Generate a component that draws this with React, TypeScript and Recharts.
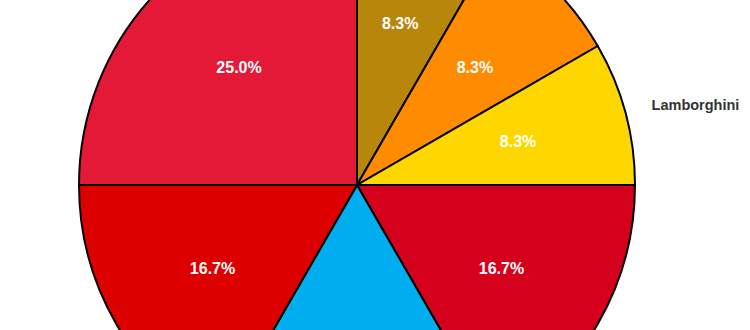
import { PieChart, Pie, Cell } from 'recharts';

const brands = ['Porsche', 'McLaren', 'Lamborghini', 'Alfa Romeo', 'Bugatti', 'Ferrari', 'Tesla'];
const counts = [1, 1, 1, 2, 2, 2, 3];
const colors = ['#B8860B', '#FF8C00', '#FFD700', '#D5001C', '#00ADEF', '#DC0000', '#E31937'];

const data = brands.map((name, i) => ({ name, value: counts[i] }));
const total = counts.reduce((a, b) => a + b, 0);

const RAD = Math.PI / 180;

function renderLabel(props: any) {
    const { cx, cy, midAngle, outerRadius, value, name } = props;
    const cos = Math.cos(-midAngle * RAD);
    const sin = Math.sin(-midAngle * RAD);
    const rIn = outerRadius * 0.6;
    const rOut = outerRadius + 27;
    return (
        <g>
            <text
                x={cx + rIn * cos}
                y={cy + rIn * sin}
                fill="#fff"
                fontSize={16}
                fontWeight="bold"
                textAnchor="middle"
                dominantBaseline="central"
            >
                {((value / total) * 100).toFixed(1)}%
            </text>
            <text
                x={cx + rOut * cos}
                y={cy + rOut * sin + 4}
                fill="#333"
                fontSize={14.5}
                fontWeight="bold"
                textAnchor={cos >= 0 ? 'start' : 'end'}
            >
                {name}
            </text>
        </g>
    );
}

export default function App() {
    return (
        <div style={{ position: 'fixed', left: 0, top: 0, width: 750, height: 330, background: '#fff', fontFamily: '"Liberation Sans", Arial, sans-serif' }}>
            <PieChart width={750} height={330} margin={{ top: 0, right: 0, bottom: 0, left: 0 }}>
                <Pie
                    data={data}
                    dataKey="value"
                    nameKey="name"
                    cx={357}
                    cy={185}
                    outerRadius={278}
                    startAngle={90}
                    endAngle={-270}
                    stroke="#000"
                    strokeWidth={2}
                    label={renderLabel}
                    labelLine={false}
                    isAnimationActive={false}
                >
                    {data.map((entry, index) => (
                        <Cell key={`cell-${index}`} fill={colors[index]} />
                    ))}
                </Pie>
            </PieChart>
        </div>
    );
}
